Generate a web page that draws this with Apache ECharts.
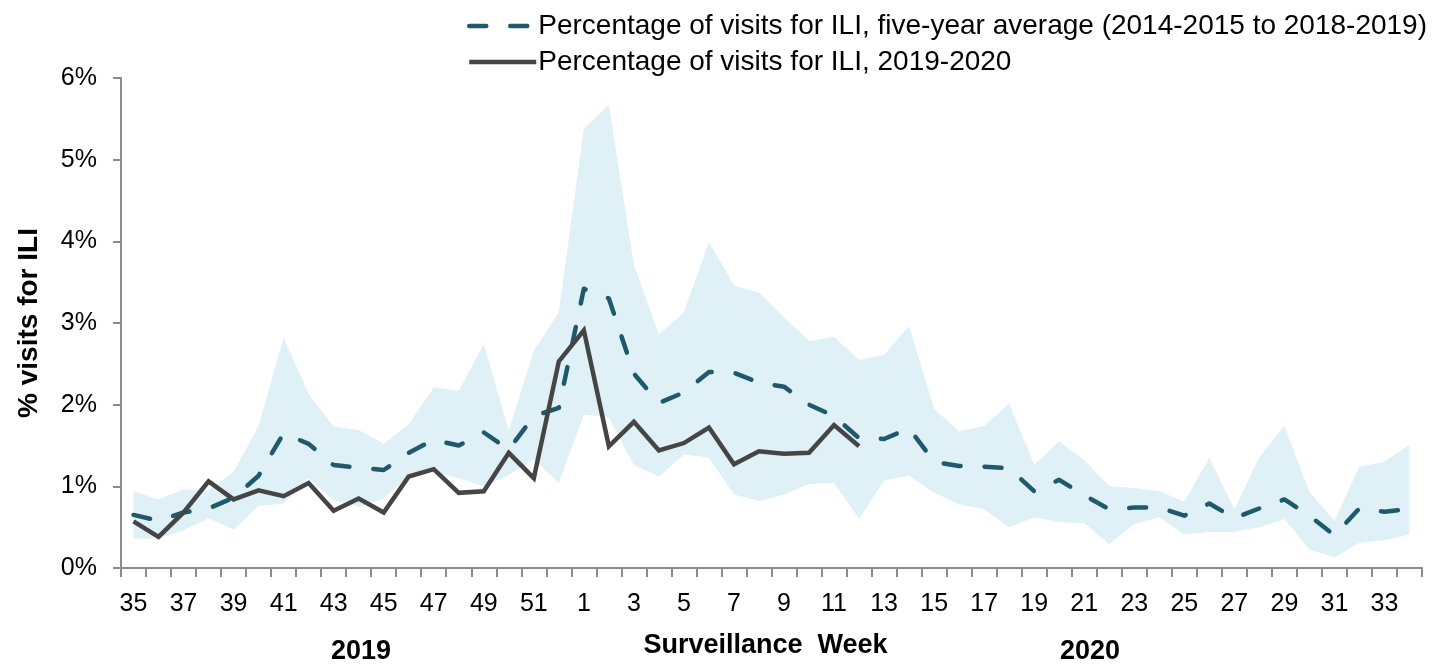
<!DOCTYPE html>
<html>
<head>
<meta charset="utf-8">
<script src="https://cdn.jsdelivr.net/npm/echarts@6/dist/echarts.min.js"></script>
<style>
html,body{margin:0;padding:0;background:#fff;}
#chart{width:1443px;height:664px;}
</style>
</head>
<body>
<div id="chart"></div>
<script>
// Surveillance weeks (2019 weeks 35-52, then 2020 weeks 1-34)
const weeks = ['35','36','37','38','39','40','41','42','43','44','45','46','47','48','49','50','51','52',
  '1','2','3','4','5','6','7','8','9','10','11','12','13','14','15','16','17','18','19','20',
  '21','22','23','24','25','26','27','28','29','30','31','32','33','34'];

// Five-year average (2014-2015 to 2018-2019), % of visits for ILI
const avgFiveYear = [0.65,0.58,0.68,0.73,0.86,1.13,1.65,1.52,1.26,1.23,1.20,1.41,1.57,1.50,1.66,1.45,1.86,1.96,
  3.42,3.30,2.38,2.02,2.15,2.40,2.39,2.27,2.22,2.00,1.86,1.59,1.58,1.71,1.30,1.25,1.24,1.22,0.94,1.08,
  0.89,0.72,0.74,0.74,0.64,0.79,0.61,0.73,0.84,0.64,0.40,0.73,0.69,0.72];

// 2019-2020 season, % of visits for ILI (data through week 12)
const season1920 = [0.57,0.38,0.68,1.06,0.84,0.95,0.88,1.04,0.70,0.85,0.68,1.12,1.21,0.92,0.94,1.41,1.10,2.53,
  2.91,1.49,1.79,1.44,1.53,1.72,1.27,1.43,1.40,1.41,1.75,1.49];

// Range of the previous five seasons (min / max)
const bandLow = [0.36,0.36,0.46,0.61,0.47,0.76,0.79,1.10,0.83,0.75,0.85,1.12,1.18,1.10,1.00,1.14,1.33,1.04,
  1.88,1.84,1.26,1.12,1.39,1.35,0.90,0.82,0.90,1.03,1.04,0.60,1.07,1.13,0.92,0.78,0.72,0.50,0.62,0.56,
  0.55,0.29,0.54,0.62,0.41,0.44,0.44,0.50,0.60,0.23,0.13,0.31,0.34,0.41];
const bandHigh = [0.94,0.84,0.96,0.95,1.18,1.74,2.82,2.13,1.73,1.69,1.52,1.76,2.21,2.17,2.74,1.68,2.66,3.13,
  5.38,5.67,3.71,2.86,3.13,3.99,3.46,3.37,3.07,2.78,2.83,2.55,2.61,2.96,1.95,1.67,1.74,2.01,1.26,1.55,
  1.32,1.00,0.98,0.94,0.81,1.35,0.72,1.36,1.74,0.93,0.58,1.24,1.30,1.51];

const yTicks = [0,1,2,3,4,5,6];

const nameAvg = 'Percentage of visits for ILI, five-year average (2014-2015 to 2018-2019)';
const nameSeason = 'Percentage of visits for ILI, 2019-2020';

const bandSpan = bandHigh.map((h, i) => +(h - bandLow[i]).toFixed(3));

const FONT = '"Liberation Sans", Arial, sans-serif';
const chart = echarts.init(document.getElementById('chart'), null, {renderer: 'canvas'});
chart.setOption({
  animation: false,
  backgroundColor: '#ffffff',
  textStyle: {fontFamily: FONT},
  grid: {left: 121, right: 21, top: 78, bottom: 90, containLabel: false},
  legend: {
    data: [nameAvg, nameSeason],
    orient: 'vertical',
    left: 462,
    top: 6,
    itemWidth: 67,
    itemHeight: 14,
    itemGap: 6,
    itemStyle: {opacity: 0},
    lineStyle: {width: 'inherit'},
    textStyle: {fontFamily: FONT, fontSize: 28, color: '#000', lineHeight: 30, padding: [0, 0, 0, -3]},
    selectedMode: false
  },
  xAxis: {
    type: 'category',
    data: weeks,
    boundaryGap: true,
    name: 'Surveillance  Week',
    nameLocation: 'middle',
    nameGap: 64,
    nameTextStyle: {fontFamily: FONT, fontSize: 27, fontWeight: 'bold', color: '#000', padding: [0, 12, 0, 0]},
    axisLine: {lineStyle: {color: '#8c8c8c', width: 2}},
    axisTick: {show: true, interval: 0, alignWithLabel: false, length: 9, lineStyle: {color: '#8c8c8c', width: 2}},
    axisLabel: {interval: 1, fontSize: 25, color: '#000', margin: 24, fontFamily: FONT},
    splitLine: {show: false}
  },
  yAxis: {
    type: 'value',
    min: yTicks[0],
    max: yTicks[yTicks.length - 1],
    interval: 1,
    name: '% visits for ILI',
    nameLocation: 'middle',
    nameGap: 78,
    nameRotate: 90,
    nameTextStyle: {fontFamily: FONT, fontSize: 28, fontWeight: 'bold', color: '#000'},
    axisLine: {show: true, lineStyle: {color: '#8c8c8c', width: 2}},
    axisTick: {show: true, length: 8, lineStyle: {color: '#8c8c8c', width: 2}},
    axisLabel: {formatter: '{value}%', fontSize: 25, color: '#000', margin: 24, fontFamily: FONT},
    splitLine: {show: false}
  },
  graphic: [
    {type: 'text', left: 361 - 30, top: 638, style: {text: '2019', font: 'bold 27px "Liberation Sans", Arial, sans-serif', fill: '#000'}},
    {type: 'text', left: 1090 - 30, top: 638, style: {text: '2020', font: 'bold 27px "Liberation Sans", Arial, sans-serif', fill: '#000'}}
  ],
  series: [
    {
      name: 'bandLow', type: 'line', stack: 'band', data: bandLow,
      symbol: 'none', lineStyle: {opacity: 0}, silent: true, z: 1
    },
    {
      name: 'bandRange', type: 'line', stack: 'band', data: bandSpan,
      symbol: 'none', lineStyle: {opacity: 0},
      areaStyle: {color: '#dff0f7', opacity: 1}, silent: true, z: 1
    },
    {
      name: nameAvg, type: 'line', data: avgFiveYear, symbol: 'none',
      lineStyle: {color: '#1f5a6a', width: 4.5, type: [17, 24], cap: 'round', join: 'round'},
      itemStyle: {color: '#1f5a6a'}, z: 3
    },
    {
      name: nameSeason, type: 'line', data: season1920, symbol: 'none',
      lineStyle: {color: '#454545', width: 4.5, cap: 'butt', join: 'miter'},
      itemStyle: {color: '#454545'}, z: 4
    }
  ]
});
</script>
</body>
</html>
